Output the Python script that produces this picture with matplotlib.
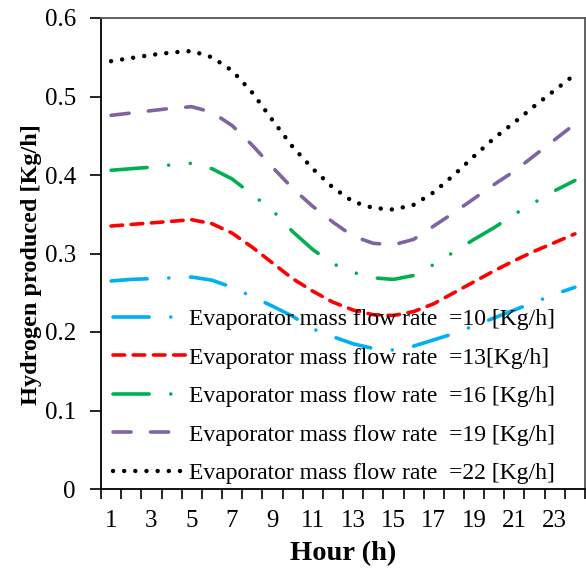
import matplotlib
matplotlib.use('Agg')
import matplotlib.pyplot as plt
import numpy as np

hours = np.arange(1, 25)
xticklabels = [str(h) for h in range(1, 24, 2)]

h2_10 = [.265, .267, .268, .269, .270, .266, .257, .245, .233, .220, .204, .194,
         .185, .179, .177, .182, .190, .198, .208, .218, .228, .238, .248, .257]
h2_13 = [.335, .337, .339, .341, .343, .338, .326, .308, .288, .268, .252, .238,
         .228, .222, .221, .226, .236, .250, .264, .278, .291, .303, .314, .325]
h2_16 = [.406, .408, .410, .413, .415, .408, .395, .375, .355, .328, .305, .287,
         .276, .269, .267, .272, .286, .302, .318, .333, .350, .365, .380, .393]
h2_19 = [.476, .479, .482, .485, .487, .480, .463, .438, .410, .383, .360, .340,
         .322, .313, .311, .318, .335, .352, .370, .388, .405, .425, .445, .465]
h2_22 = [.545, .549, .553, .556, .558, .550, .533, .505, .470, .436, .408, .384,
         .366, .358, .356, .362, .378, .400, .424, .447, .467, .488, .508, .528]

labels = ['Evaporator mass flow rate  =10 [Kg/h]',
          'Evaporator mass flow rate  =13[Kg/h]',
          'Evaporator mass flow rate  =16 [Kg/h]',
          'Evaporator mass flow rate  =19 [Kg/h]',
          'Evaporator mass flow rate  =22 [Kg/h]']

plt.rcParams['font.family'] = ['Liberation Serif', 'DejaVu Serif']

fig = plt.figure(figsize=(5.86, 5.68), dpi=100)
ax = fig.add_axes([101/586, (568-489)/568, (585-101)/586, (489-18)/568])

lw = 2.6
# long dash dot / dash / long dash dot dot / long dash / round dot
ax.plot(hours, h2_10, color='#00B0F0', lw=lw, dashes=(10, 6, 0.01, 6),
        dash_capstyle='round', label=labels[0])
ax.plot(hours, h2_13, color='#FF0000', lw=lw, dashes=(3.2, 2.4),
        dash_capstyle='round', label=labels[1])
ax.plot(hours, h2_16, color='#00B050', lw=lw, dashes=(10, 6, 0.01, 6, 0.01, 6),
        dash_capstyle='round', label=labels[2])
ax.plot(hours, h2_19, color='#8064A2', lw=lw, dashes=(5, 5.4),
        dash_capstyle='round', label=labels[3])
ax.plot(hours, h2_22, color='black', lw=3.2, dashes=(0.01, 2.5),
        dash_capstyle='round', label=labels[4])

ax.set_xlim(0.5, 24.5)
ax.set_ylim(0, 0.6)
ax.set_xticks(range(1, 24, 2))
ax.set_xticklabels(xticklabels)
ax.set_xticks(np.arange(0.5, 25, 1), minor=True)
ax.tick_params(axis='x', which='major', length=0, labelsize=18, pad=15)
ax.tick_params(axis='x', which='minor', length=7, width=1.2, direction='out')
ax.set_yticks(np.arange(0, 0.61, 0.1))
ax.set_yticklabels(['0', '0.1', '0.2', '0.3', '0.4', '0.5', '0.6'])
ax.tick_params(axis='y', length=8, width=1.2, direction='out', labelsize=18, pad=10)

for s in ['top', 'right']:
    ax.spines[s].set_color('#555555')
    ax.spines[s].set_linewidth(1.3)
for s in ['left', 'bottom']:
    ax.spines[s].set_color('black')
    ax.spines[s].set_linewidth(1.3)

ax.set_xlabel('Hour (h)', fontsize=20.5, fontweight='bold')
ax.xaxis.set_label_coords(0.5, -0.11)
ax.set_ylabel('Hydrogen produced [Kg/h]', fontsize=17.5, fontweight='bold')
ax.yaxis.set_label_coords(-0.122, 0.476)

ax.legend(loc='lower left', bbox_to_anchor=(-0.01, -0.025), frameon=False,
          fontsize=17, handlelength=3.1, handletextpad=0.15,
          labelspacing=0.72, borderaxespad=0.3)

fig.savefig('out.png', dpi=100)
